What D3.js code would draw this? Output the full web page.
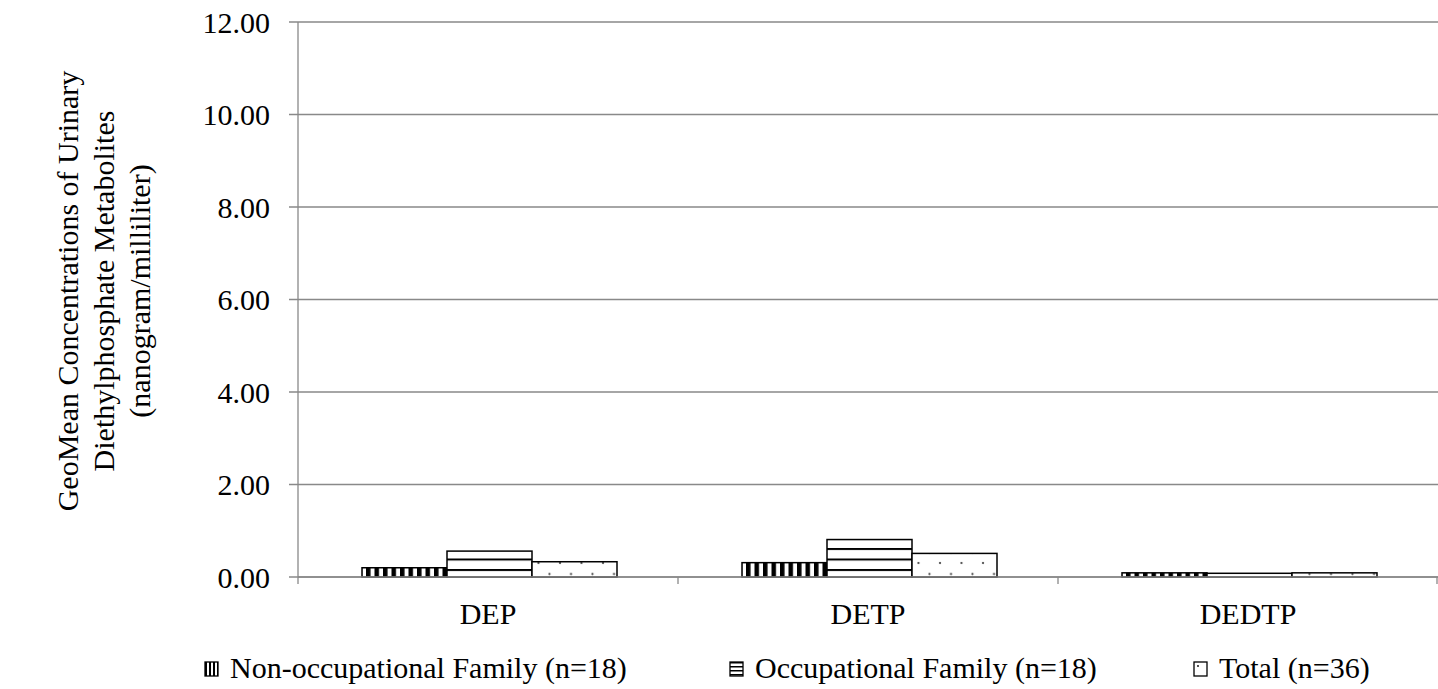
<!DOCTYPE html>
<html><head><meta charset="utf-8">
<script src="https://cdn.jsdelivr.net/npm/d3@7"></script>
<style>body{margin:0;background:#fff}</style>
</head><body>
<svg id="c" width="1438" height="689"></svg>
<script>
const categories = ["DEP", "DETP", "DEDTP"];
const seriesNames = ["Non-occupational Family (n=18)", "Occupational Family (n=18)", "Total (n=36)"];
const nonOccupational = [0.20, 0.31, 0.09];
const occupational = [0.56, 0.81, 0.08];
const total = [0.33, 0.51, 0.09];
const yTicks = [0, 2, 4, 6, 8, 10, 12];

const series = [nonOccupational, occupational, total];
const svg = d3.select("#c");
const font = "Liberation Serif";
const fs = 30;
const m = {l: 298, r: 1438, t: 22, b: 577};

const defs = svg.append("defs");
const p1 = defs.append("pattern").attr("id","p0").attr("patternUnits","userSpaceOnUse").attr("width",8.5).attr("height",10);
p1.append("rect").attr("width",8.5).attr("height",10).attr("fill","#fff");
p1.append("rect").attr("x",0).attr("width",4.5).attr("height",10).attr("fill","#000");
const p2 = defs.append("pattern").attr("id","p1").attr("patternUnits","userSpaceOnUse").attr("width",10).attr("height",10.5).attr("y",2);
p2.append("rect").attr("width",10).attr("height",10.5).attr("fill","#fff");
p2.append("rect").attr("y",0).attr("width",10).attr("height",2).attr("fill","#000");
const p3 = defs.append("pattern").attr("id","p2").attr("patternUnits","userSpaceOnUse").attr("width",21.5).attr("height",21.5);
p3.append("rect").attr("width",21.5).attr("height",21.5).attr("fill","#fff");
p3.append("circle").attr("cx",4).attr("cy",4).attr("r",1.1).attr("fill","#333");
p3.append("circle").attr("cx",15).attr("cy",15).attr("r",1.1).attr("fill","#333");
const lp1 = defs.append("pattern").attr("id","lp0").attr("patternUnits","userSpaceOnUse").attr("width",4).attr("height",4);
lp1.append("rect").attr("width",4).attr("height",4).attr("fill","#fff");
lp1.append("rect").attr("width",2).attr("height",4).attr("fill","#000");
const lp2 = defs.append("pattern").attr("id","lp1").attr("patternUnits","userSpaceOnUse").attr("width",4).attr("height",4);
lp2.append("rect").attr("width",4).attr("height",4).attr("fill","#fff");
lp2.append("rect").attr("width",4).attr("height",1.5).attr("fill","#000");

const y = d3.scaleLinear().domain([0, 12]).range([m.b, m.t]);
const x0 = d3.scaleBand().domain(categories).range([m.l, m.r]).paddingInner(0).paddingOuter(0);
const x1 = d3.scaleBand().domain(d3.range(3)).range([64, 64 + 255]);

svg.append("g").selectAll("line").data(yTicks).join("line")
  .attr("x1", m.l - 9).attr("x2", m.r).attr("y1", d => y(d)).attr("y2", d => y(d))
  .attr("stroke", "#898989").attr("stroke-width", 1.3);

svg.append("g").selectAll("text").data(yTicks).join("text")
  .attr("x", 270).attr("y", d => y(d)).attr("dy", "0.35em").attr("text-anchor","end")
  .attr("font-family", font).attr("font-size", fs).text(d => d.toFixed(2));

const groups = svg.append("g").selectAll("g").data(categories).join("g")
  .attr("transform", c => `translate(${x0(c)},0)`);
groups.selectAll("rect").data((c, i) => series.map((s, j) => ({j, v: s[i]}))).join("rect")
  .attr("x", d => x1(d.j)).attr("width", x1.bandwidth())
  .attr("y", d => y(d.v)).attr("height", d => y(0) - y(d.v))
  .attr("fill", d => `url(#p${d.j})`).attr("stroke", "#000").attr("stroke-width", 1.5);

svg.append("line").attr("x1", m.l).attr("x2", m.l).attr("y1", m.t).attr("y2", m.b)
  .attr("stroke", "#898989").attr("stroke-width", 1.3);
svg.append("line").attr("x1", m.l).attr("x2", m.r).attr("y1", m.b).attr("y2", m.b)
  .attr("stroke", "#898989").attr("stroke-width", 1.3);
const catEdges = categories.map(c => x0(c)).concat([m.r - 1]);
svg.append("g").selectAll("line").data(catEdges).join("line")
  .attr("x1", d => d).attr("x2", d => d).attr("y1", m.b).attr("y2", m.b + 7)
  .attr("stroke", "#898989").attr("stroke-width", 1.3);
svg.append("g").selectAll("text").data(categories).join("text")
  .attr("x", c => x0(c) + x0.bandwidth()/2).attr("y", 624).attr("text-anchor","middle")
  .attr("font-family", font).attr("font-size", fs).text(c => c);

const tl = ["GeoMean Concentrations of Urinary", "Diethylphosphate Metabolites", "(nanogram/milliliter)"];
const yt = svg.append("text").attr("transform", "translate(0,291) rotate(-90)")
  .attr("text-anchor","middle").attr("font-family", font).attr("font-size", fs);
tl.forEach((t, i) => yt.append("tspan").attr("x", 0).attr("y", 78 + i * 36).text(t));

const legX = [205, 730, 1194];
const lg = svg.append("g").selectAll("g").data(seriesNames).join("g")
  .attr("transform", (d, i) => `translate(${legX[i]},678)`);
lg.append("rect").attr("x", 0).attr("y", -16).attr("width", 13).attr("height", 14)
  .attr("fill", (d, i) => i < 2 ? `url(#lp${i})` : "#fff").attr("stroke", "#000").attr("stroke-width", 1.3);
lg.filter((d,i)=>i===2).append("circle").attr("cx",4).attr("cy",-12).attr("r",0.9).attr("fill","#000");
lg.append("text").attr("x", 25).attr("y", 0).attr("font-family", font).attr("font-size", fs).text(d => d);
</script>
</body></html>
